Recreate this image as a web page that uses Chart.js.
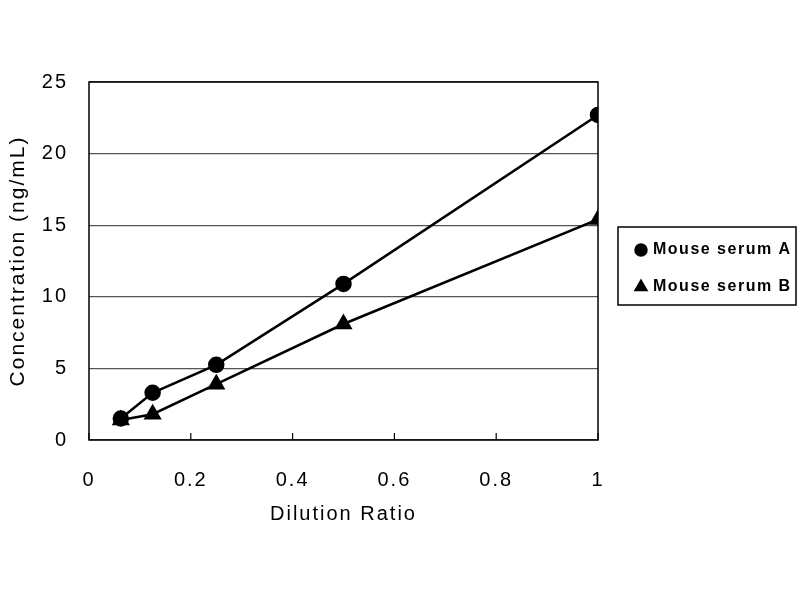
<!DOCTYPE html>
<html><head><meta charset="utf-8">
<script src="https://cdn.jsdelivr.net/npm/chart.js@4"></script>
<style>html,body{margin:0;padding:0;background:#fff}#wrap{width:800px;height:600px}</style>
</head><body><div id="wrap"><canvas id="c" width="800" height="600"></canvas></div>
<script>
const dilution = [0.0625, 0.125, 0.25, 0.5, 1];
const serumA = [1.5, 3.3, 5.25, 10.9, 22.7];
const serumB = [1.4, 1.8, 3.9, 8.1, 15.4];
const xTicks = [0, 0.2, 0.4, 0.6, 0.8, 1];
const yTicks = [0, 5, 10, 15, 20, 25];

const spacing = {
  id: 'spacing',
  beforeUpdate(chart) { chart.ctx.letterSpacing = '2px'; },
  beforeDraw(chart) { chart.ctx.letterSpacing = '2px'; }
};

const frame = {
  id: 'frame',
  afterDatasetsDraw(chart) {
    const {ctx, chartArea: a} = chart;
    ctx.save();
    ctx.strokeStyle = '#000'; ctx.lineWidth = 1.5;
    ctx.strokeRect(a.left, a.top, a.right - a.left, a.bottom - a.top);
    const xs = chart.scales.x;
    ctx.lineWidth = 1.2;
    xTicks.forEach(v => {
      const px = xs.getPixelForValue(v);
      ctx.beginPath(); ctx.moveTo(px, a.bottom); ctx.lineTo(px, a.bottom - 7); ctx.stroke();
    });
    // custom legend box
    const bx = a.right + 20, by = 227, bw = 178, bh = 78;
    ctx.lineWidth = 1.5;
    ctx.strokeRect(bx, by, bw, bh);
    ctx.fillStyle = '#000';
    ctx.font = 'bold 16px "Liberation Sans"';
    ctx.textBaseline = 'middle';
    ctx.letterSpacing = '1.5px';
    chart.data.datasets.forEach((ds, i) => {
      const cy = by + 23 + i * 37;
      Chart.helpers.drawPoint(ctx, { pointStyle: ds.pointStyle, radius: ds.pointRadius - 1, borderWidth: 1 }, bx + 23, cy);
      ctx.fill();
      ctx.fillText(ds.label, bx + 35, cy);
    });
    ctx.restore();
  },
  afterDraw(chart) { chart.ctx.letterSpacing = '0px'; }
};

new Chart(document.getElementById('c'), {
  type: 'scatter',
  data: {
    datasets: [
      { label: 'Mouse serum A', data: dilution.map((x, i) => ({x, y: serumA[i]})), showLine: true,
        borderColor: '#000', backgroundColor: '#000', borderWidth: 2.5, pointStyle: 'circle', pointRadius: 7 },
      { label: 'Mouse serum B', data: dilution.map((x, i) => ({x, y: serumB[i]})), showLine: true,
        borderColor: '#000', backgroundColor: '#000', borderWidth: 2.5, pointStyle: 'triangle', pointRadius: 8 }
    ]
  },
  options: {
    responsive: false, animation: false,
    layout: { padding: { left: 0, right: 202, top: 82, bottom: 68 } },
    plugins: {
      tooltip: { enabled: false },
      legend: { display: false }
    },
    scales: {
      x: {
        type: 'linear', min: 0, max: 1,
        afterBuildTicks: s => { s.ticks = xTicks.map(v => ({value: v})); },
        afterFit: s => { s.height = 92; },
        grid: { display: false },
        border: { display: false },
        ticks: { color: '#000', padding: 20, callback: v => String(v), font: { family: 'Liberation Sans', size: 20 } },
        title: { display: true, text: 'Dilution Ratio', color: '#000', padding: { top: 0, bottom: 6 }, font: { family: 'Liberation Sans', size: 20 } }
      },
      y: {
        min: 0, max: 25,
        afterBuildTicks: s => { s.ticks = yTicks.map(v => ({value: v})); },
        afterFit: s => { s.width = 89; },
        grid: { color: '#555', lineWidth: 1.3, drawTicks: false },
        border: { display: false },
        ticks: { color: '#000', padding: 21, font: { family: 'Liberation Sans', size: 20 } },
        title: { display: true, text: 'Concentration (ng/mL)', color: '#000', padding: { top: 6, bottom: 0 }, font: { family: 'Liberation Sans', size: 21 } }
      }
    }
  },
  plugins: [spacing, frame]
});
</script></body></html>
